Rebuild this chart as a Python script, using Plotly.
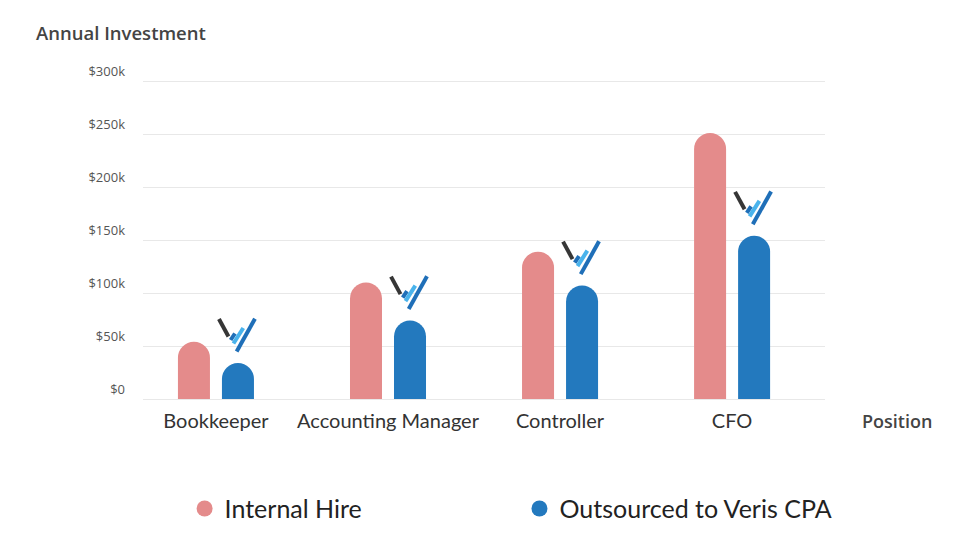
import plotly.graph_objects as go

# ---- data ----
positions = ["Bookkeeper", "Accounting Manager", "Controller", "CFO"]
internal_hire = [54, 110, 139, 251]          # $k
outsourced = [34, 74, 107, 154]              # $k
y_tick_vals = [0, 50, 100, 150, 200, 250, 300]
y_tick_text = ["$0", "$50k", "$100k", "$150k", "$200k", "$250k", "$300k"]
series_names = ["Internal Hire", "Outsourced to Veris CPA"]

PINK = "#e48b8b"
BLUE = "#2379be"
GRID = "#e8e8e8"

# geometry helpers (pixels -> data units)
PX_X = 1 / 172.0          # x units per pixel
PX_Y = 50 / 53.0          # $k per pixel
BAR_W = 32 * PX_X
OFF = 22 * PX_X

xs = list(range(len(positions)))

fig = go.Figure()
fig.add_trace(go.Bar(
    x=xs, y=internal_hire, name=series_names[0], showlegend=False,
    width=BAR_W, offset=-OFF - BAR_W / 2,
    marker=dict(color=PINK, cornerradius="50%", line=dict(width=0)),
    hoverinfo="y"))
fig.add_trace(go.Bar(
    x=xs, y=outsourced, name=series_names[1], showlegend=False,
    width=BAR_W, offset=OFF - BAR_W / 2,
    marker=dict(color=BLUE, cornerradius="50%", line=dict(width=0)),
    hoverinfo="y"))

# small logo marks above the outsourced bars (offsets in pixels from bar top)
logo_parts = [
    ("#363636", [(-19, 44), (-9.5, 26.5)]),
    ("#1f6fb8", [(-7.3, 23), (-3, 29.5)]),
    ("#49b3ec", [(-4.5, 19.5), (5.3, 35)]),
    ("#1f6fb8", [(-1.3, 11.5), (17, 44.3)]),
]
for color, seg in logo_parts:
    lx, ly = [], []
    for i, v in enumerate(outsourced):
        cx = xs[i] + OFF
        for dx, dy in seg:
            lx.append(cx + dx * PX_X)
            ly.append(v + dy * PX_Y)
        lx.append(None)
        ly.append(None)
    fig.add_trace(go.Scatter(x=lx, y=ly, mode="lines", showlegend=False,
                             hoverinfo="skip",
                             line=dict(color=color, width=4)))

# legend entries with round markers (two separate legends for spacing)
for name, color, lg in zip(series_names, [PINK, BLUE], ["legend", "legend2"]):
    fig.add_trace(go.Scatter(x=[None], y=[None], mode="markers", name=name,
                             legend=lg,
                             marker=dict(color=color, size=16, symbol="circle")))

legend_common = dict(orientation="h", y=-0.343, yanchor="middle",
                     xanchor="left", bgcolor="rgba(0,0,0,0)",
                     font=dict(family="Lato", size=25, color="#222"),
                     itemwidth=30)

fig.update_layout(
    width=953, height=550,
    paper_bgcolor="white", plot_bgcolor="white",
    margin=dict(l=135, r=136, t=71, b=159, autoexpand=False),
    font=dict(family="Open Sans", color="#444"),
    showlegend=True,
    legend=dict(x=0.061, **legend_common),
    legend2=dict(x=0.552, **legend_common),
    xaxis=dict(range=[-0.424, 3.54], tickvals=xs, ticktext=positions,
               showgrid=False, zeroline=False, showline=True,
               linecolor=GRID, linewidth=1, ticks="",
               ticklabelstandoff=4,
               tickfont=dict(family="Lato", size=20, color="#333")),
    yaxis=dict(range=[0, 302], tickvals=y_tick_vals, ticktext=y_tick_text,
               showgrid=True, gridcolor=GRID, gridwidth=1,
               zeroline=False, showline=False, ticks="",
               ticklabelstandoff=17, ticklabelshift=-10,
               tickfont=dict(family="Open Sans", size=13, color="#555")),
    annotations=[
        dict(text="Annual Investment", xref="paper", yref="paper",
             x=-0.16, y=1.145, xanchor="left", yanchor="middle",
             showarrow=False,
             font=dict(family="Open Sans", size=18.5, color="#444", weight=600)),
        dict(text="Position", xref="paper", yref="paper",
             x=1.051, y=-0.069, xanchor="left", yanchor="middle",
             showarrow=False,
             font=dict(family="Open Sans", size=18, color="#444", weight=600)),
    ],
)

fig.write_html("out.html")
